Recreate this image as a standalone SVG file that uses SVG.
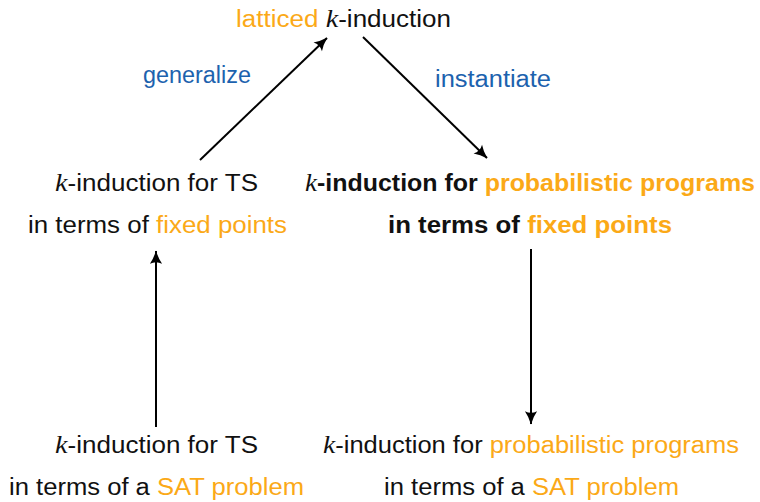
<svg xmlns="http://www.w3.org/2000/svg" width="760" height="502" viewBox="0 0 760 502">
<defs>
<style>
text{font-family:"Liberation Sans","DejaVu Sans",sans-serif;font-size:23px;fill:#111}
.o{fill:#FBA917}
.b{fill:#1C62AE}
.k{font-family:"Liberation Serif","DejaVu Serif",serif;font-style:italic;font-size:25px}
.bold{font-weight:bold}
.c{stroke:#000;stroke-width:2;fill:none}
</style>
<marker id="ah" viewBox="0 0 12 12" refX="11.5" refY="6" markerWidth="14" markerHeight="14" markerUnits="userSpaceOnUse" orient="auto">
<path d="M12,6 Q5,4 0.5,0.8 Q3.4,6 0.5,11.2 Q5,8 12,6 Z" fill="#000"/>
</marker>
</defs>
<rect width="760" height="502" fill="#fff"/>
<g id="connectors">
<line class="c" x1="200" y1="160" x2="327" y2="38" marker-end="url(#ah)"/>
<line class="c" x1="363" y1="37" x2="487" y2="158" marker-end="url(#ah)"/>
<line class="c" x1="156" y1="427" x2="156" y2="251" marker-end="url(#ah)"/>
<line class="c" x1="531" y1="249" x2="531" y2="424" marker-end="url(#ah)"/>
<text class="b" x="143" y="83" textLength="108" lengthAdjust="spacingAndGlyphs">generalize</text>
<text class="b" x="435" y="87" textLength="116" lengthAdjust="spacingAndGlyphs">instantiate</text>
</g>
<g id="top">
<text x="236" y="27" textLength="215" lengthAdjust="spacingAndGlyphs"><tspan class="o">latticed </tspan><tspan class="k">k</tspan>-induction</text>
</g>
<g id="ts-fixed">
<text x="55" y="191" textLength="203" lengthAdjust="spacingAndGlyphs"><tspan class="k">k</tspan>-induction for TS</text>
<text x="28" y="233" textLength="259" lengthAdjust="spacingAndGlyphs">in terms of <tspan class="o">fixed points</tspan></text>
</g>
<g id="pp-fixed">
<text class="bold" x="305" y="191" textLength="450" lengthAdjust="spacingAndGlyphs"><tspan class="k" font-weight="normal">k</tspan>-induction for <tspan class="o">probabilistic programs</tspan></text>
<text class="bold" x="388" y="233" textLength="284" lengthAdjust="spacingAndGlyphs">in terms of <tspan class="o">fixed points</tspan></text>
</g>
<g id="ts-sat">
<text x="55" y="453" textLength="203" lengthAdjust="spacingAndGlyphs"><tspan class="k">k</tspan>-induction for TS</text>
<text x="9" y="495" textLength="295" lengthAdjust="spacingAndGlyphs">in terms of a <tspan class="o">SAT problem</tspan></text>
</g>
<g id="pp-sat">
<text x="323" y="453" textLength="416" lengthAdjust="spacingAndGlyphs"><tspan class="k">k</tspan>-induction for <tspan class="o">probabilistic programs</tspan></text>
<text x="384" y="495" textLength="295" lengthAdjust="spacingAndGlyphs">in terms of a <tspan class="o">SAT problem</tspan></text>
</g>
</svg>
